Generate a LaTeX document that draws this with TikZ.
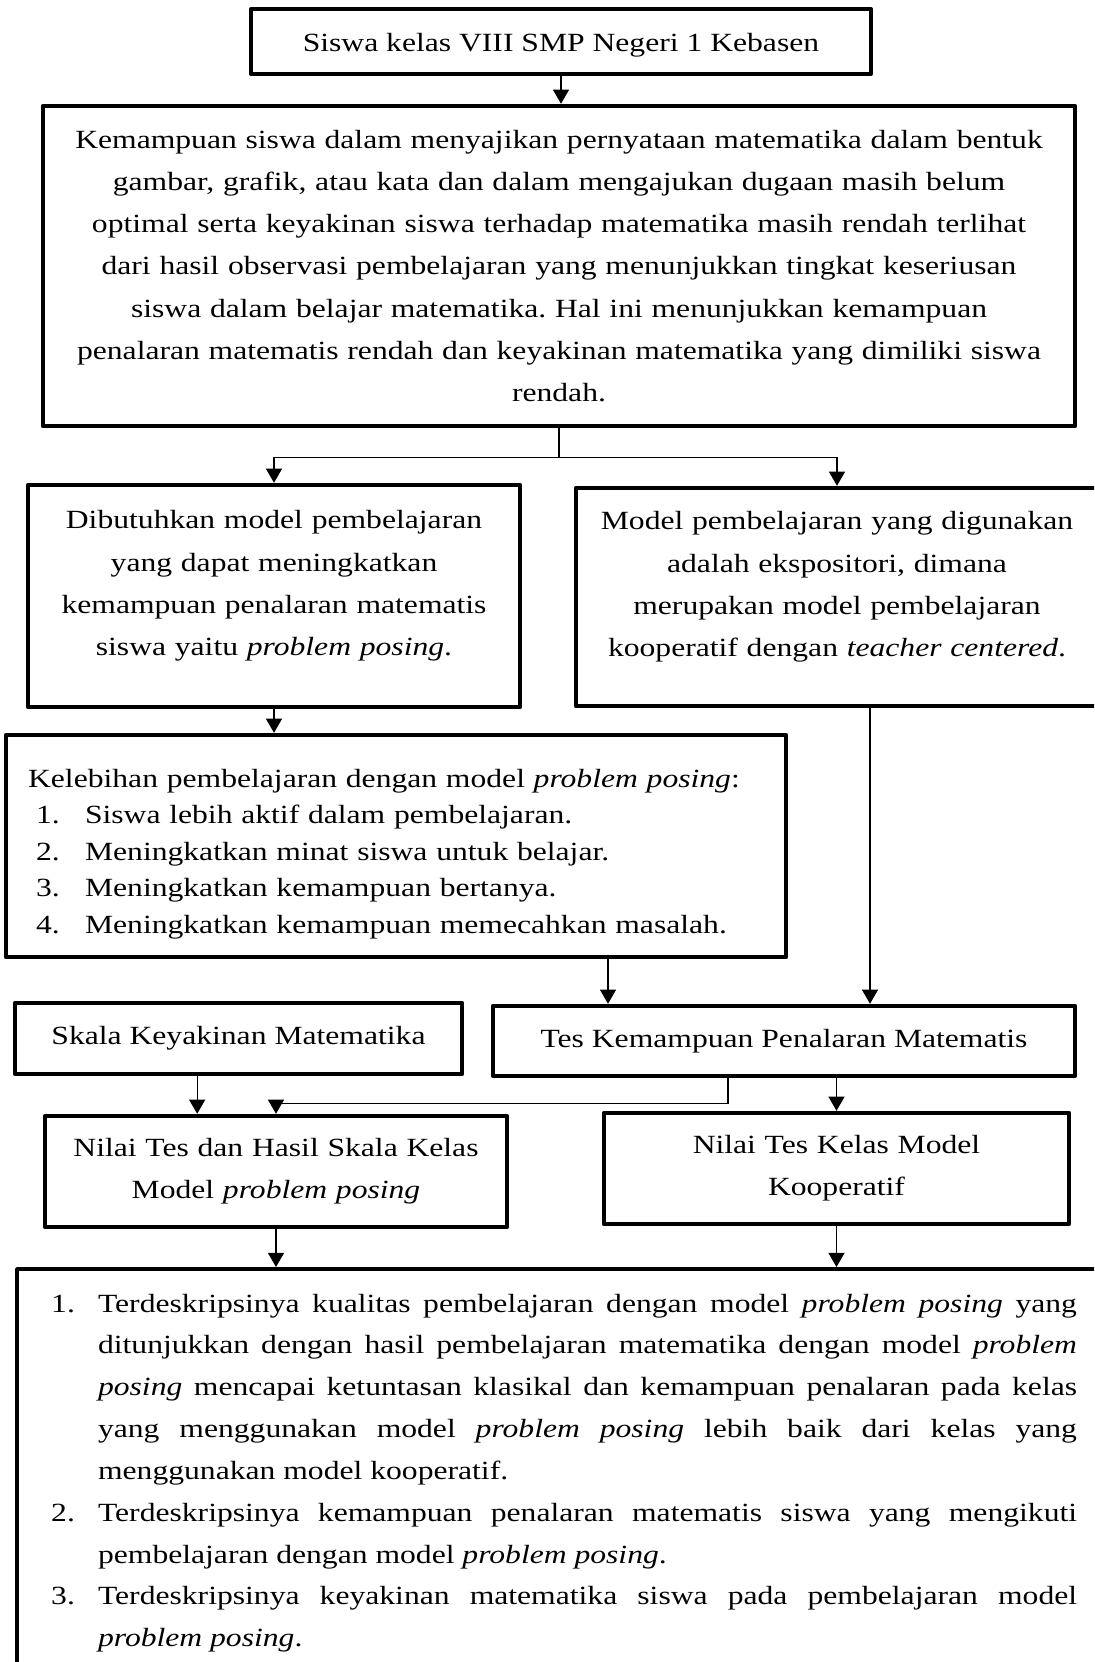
\documentclass[tikz,border=0pt]{standalone}
\usepackage{fontspec}
\setmainfont{Liberation Serif}[FakeStretch=1.205]
\usetikzlibrary{arrows.meta}
\frenchspacing

\begin{document}
\begin{tikzpicture}[x=0.015cm,y=-0.015cm,>={Triangle[width=6.8pt,length=6pt]},
    font=\fontsize{11.2pt}{18pt}\selectfont]
    \tikzstyle{box}=[draw,line width=1.9pt,line join=round,align=center,inner sep=0pt]
    \tikzstyle{link}=[line width=0.5pt]
    \useasboundingbox (0,0) rectangle (1094,1662);
    \clip (0,0) rectangle (1094,1662);

    % boxes
    \node[box,minimum width=9.3cm,minimum height=0.975cm,line width=1.7pt,
      text height=11pt,text depth=2.4pt](siswa) at (561,41.5)
      {Siswa kelas VIII SMP Negeri 1 Kebasen};
    \node[box,minimum width=15.48cm,minimum height=4.8cm,text width=431pt](masalah) at (559,266)
      {Kemampuan siswa dalam menyajikan pernyataan matematika dalam bentuk\\
       gambar, grafik, atau kata dan dalam mengajukan dugaan masih belum\\
       optimal serta keyakinan siswa terhadap matematika masih rendah terlihat\\
       dari hasil observasi pembelajaran yang menunjukkan tingkat keseriusan\\
       siswa dalam belajar matematika. Hal ini menunjukkan kemampuan\\
       penalaran matematis rendah dan keyakinan matematika yang dimiliki siswa\\
       rendah.};
    \node[box,minimum width=7.38cm,minimum height=3.33cm,text width=200pt](butuh) at (274,596)
      {Dibutuhkan model pembelajaran\\
       yang dapat meningkatkan\\
       kemampuan penalaran matematis\\
       siswa yaitu \emph{problem posing}.\rule[-11pt]{0pt}{0pt}};
    \node[box,minimum width=7.83cm,minimum height=3.27cm,text width=218pt](ekspo) at (837,597)
      {Model pembelajaran yang digunakan\\
       adalah ekspositori, dimana\\
       merupakan model pembelajaran\\
       kooperatif dengan \emph{teacher centered}.\rule[-11pt]{0pt}{0pt}};
    \node[box,minimum width=11.7cm,minimum height=3.33cm,text width=314pt,align=left,
      font=\fontsize{11.2pt}{15.6pt}\selectfont](lebih) at (396,846)
      {\rule{0pt}{14.5pt}Kelebihan pembelajaran dengan model \emph{problem posing}:\\
       \hspace*{3.4pt}\makebox[20.9pt][l]{1.}Siswa lebih aktif dalam pembelajaran.\\
       \hspace*{3.4pt}\makebox[20.9pt][l]{2.}Meningkatkan minat siswa untuk belajar.\\
       \hspace*{3.4pt}\makebox[20.9pt][l]{3.}Meningkatkan kemampuan bertanya.\\
       \hspace*{3.4pt}\makebox[20.9pt][l]{4.}Meningkatkan kemampuan memecahkan masalah.};
    \node[box,minimum width=6.705cm,minimum height=1.065cm](skala) at (238.5,1038.5)
      {Skala Keyakinan Matematika};
    \node[box,minimum width=8.73cm,minimum height=1.05cm](tes) at (784,1041)
      {Tes Kemampuan Penalaran Matematis};
    \node[box,minimum width=6.93cm,minimum height=1.665cm,text width=188pt](nilaiA) at (276,1171.5)
      {Nilai Tes dan Hasil Skala Kelas\\
       Model \emph{problem posing}};
    \node[box,minimum width=6.975cm,minimum height=1.665cm,text width=188pt](nilaiB) at (836.5,1168.5)
      {Nilai Tes Kelas Model\\
       Kooperatif};
    \node[box,anchor=north west,align=justify,text width=437.8pt,inner xsep=14.5pt,
      font=\fontsize{11.2pt}{17.85pt}\selectfont,
      text height=18.3pt,text depth=180pt](hasil) at (15,1267)
      {\hangindent=20pt\hangafter=1\noindent\makebox[20pt][l]{1.}Terdeskripsinya kualitas pembelajaran dengan model \emph{problem posing} yang\linebreak
       ditunjukkan dengan hasil pembelajaran matematika dengan model \emph{problem}\linebreak
       \emph{posing} mencapai ketuntasan klasikal dan kemampuan penalaran pada kelas\linebreak
       yang menggunakan model \emph{problem posing} lebih baik dari kelas yang\linebreak
       menggunakan model kooperatif.\par
       \hangindent=20pt\hangafter=1\noindent\makebox[20pt][l]{2.}Terdeskripsinya kemampuan penalaran matematis siswa yang mengikuti\linebreak
       pembelajaran dengan model \emph{problem posing}.\par
       \hangindent=20pt\hangafter=1\noindent\makebox[20pt][l]{3.}Terdeskripsinya keyakinan matematika siswa pada pembelajaran model\linebreak
       \emph{problem posing}.\par};

    % connectors
    \draw[->,link] (siswa.south) -- (siswa.south |- masalah.north);
    \draw[link] (masalah.south) -- ++(0,29) coordinate (split);
    \draw[->,link] (split) -| (butuh.north);
    \draw[->,link] (split) -| (ekspo.north);
    \draw[->,link] (butuh.south) -- (butuh.south |- lebih.north);
    \draw[->,link] ([xshift=3.18cm]lebih.south) -- ([xshift=3.18cm]lebih.south |- tes.north);
    \draw[->,link] ([xshift=0.495cm]ekspo.south) -- ([xshift=0.495cm]ekspo.south |- tes.north);
    \draw[->,link] ([xshift=-0.62cm]skala.south) -- ([xshift=-0.62cm]skala.south |- nilaiA.north);
    \draw[->,link] ([xshift=-0.84cm]tes.south) -- ++(0,25) -| (nilaiA.north);
    \draw[->,link] (nilaiB.north |- tes.south) -- (nilaiB.north);
    \draw[->,link] (nilaiA.south) -- (nilaiA.south |- hasil.north);
    \draw[->,link] (nilaiB.south) -- (nilaiB.south |- hasil.north);
\end{tikzpicture}
\end{document}
